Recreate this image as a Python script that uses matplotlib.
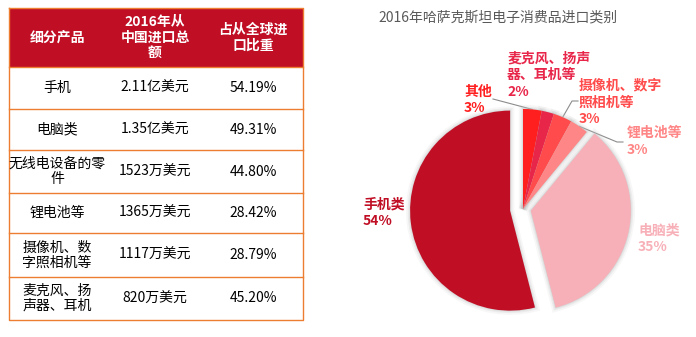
import numpy as np
from matplotlib import pyplot as plt
from matplotlib.patches import Rectangle

plt.rcParams["font.family"] = ["Noto Sans CJK SC", "DejaVu Sans"]

# table data
table_header = ["细分产品", "2016年从\n中国进口总\n额", "占从全球进\n口比重"]
products = [
    "手机",
    "电脑类",
    "无线电设备的零\n件",
    "锂电池等",
    "摄像机、数\n字照相机等",
    "麦克风、扬\n声器、耳机",
]
import_amount = ["2.11亿美元", "1.35亿美元", "1523万美元", "1365万美元", "1117万美元", "820万美元"]
global_share = [54.19, 49.31, 44.80, 28.42, 28.79, 45.20]

# pie data (clockwise from top)
pie_title = "2016年哈萨克斯坦电子消费品进口类别"
pie_labels = ["其他", "麦克风、扬声\n器、耳机等", "摄像机、数字\n照相机等", "锂电池等", "电脑类", "手机类"]
pie_shares = [3, 2, 3, 3, 35, 54]
pie_colors = ["#FF1F1F", "#E8264A", "#FF4B4B", "#FF8686", "#F8B0B8", "#C00E25"]

RED = "#C00E25"
ORANGE = "#ED7D31"

fig = plt.figure(figsize=(6.96, 3.37), dpi=100)

# overlay axis in pixel coordinates for the table and text
axis = fig.add_axes([0, 0, 1, 1])
axis.set_xlim(0, 696)
axis.set_ylim(337, 0)
axis.axis("off")

left, right = 9, 303
header_top, header_bottom = 8, 67
row_edges = [67, 109, 150, 193, 233, 277, 320]
col_centers = [57, 155, 253]

axis.add_patch(Rectangle((left, header_top), right - left, header_bottom - header_top,
                         facecolor=RED, edgecolor="none", zorder=1))
axis.plot([left, right, right, left, left],
          [header_top, header_top, row_edges[-1], row_edges[-1], header_top],
          color=ORANGE, linewidth=1.0, zorder=3)
for y in row_edges[:-1]:
    axis.plot([left, right], [y, y], color=ORANGE, linewidth=1.0, zorder=3)

header_mid = (header_top + header_bottom) / 2
for x, label in zip(col_centers, table_header):
    axis.text(x, header_mid, label, color="white", fontsize=10, fontweight="bold",
              ha="center", va="center", linespacing=1.15, zorder=4)

for i, (prod, amount, share) in enumerate(zip(products, import_amount, global_share)):
    y_mid = (row_edges[i] + row_edges[i + 1]) / 2
    for x, text in zip(col_centers, [prod, amount, "{:.2f}%".format(share)]):
        axis.text(x, y_mid, text, color="black", fontsize=10, ha="center",
                  va="center", linespacing=1.1, zorder=4)

axis.text(498, 17, pie_title, color="#595959", fontsize=10, ha="center", va="center")

# pie chart: centre at pixel (523, 209), radius 100 px
cx, cy, rad = 523, 209, 100.0
ax_pie = fig.add_axes([340 / 696, 0, 356 / 696, 1])
explode = [0, 0, 0, 0, 0.08, 0.13]

# soft shadow under the wedges
for lw, alpha in [(6, 0.12), (3.5, 0.2), (1.5, 0.3)]:
    ax_pie.pie(pie_shares, explode=explode, startangle=90, counterclock=False,
               colors=["#bfbfbf"] * len(pie_shares),
               wedgeprops={"edgecolor": "#bfbfbf", "linewidth": lw, "alpha": alpha})
wedges, _ = ax_pie.pie(pie_shares, explode=explode, startangle=90, counterclock=False,
                       colors=pie_colors,
                       wedgeprops={"edgecolor": "none", "linewidth": 0})
ax_pie.set_aspect("auto")
ax_pie.set_xlim((340 - cx) / rad, (696 - cx) / rad)
ax_pie.set_ylim((cy - 337) / rad, (cy - 0) / rad)
ax_pie.axis("off")
ax_pie.patch.set_alpha(0)

label_pos = [(464, 100), (507, 75), (579, 102.5), (627, 141.5), (638, 238.5), (363, 212.5)]
for label, share, color, (lx, ly) in zip(pie_labels, pie_shares, pie_colors, label_pos):
    axis.text(lx, ly, "{}\n{}%".format(label, share), color=color, fontsize=10,
              fontweight="bold", ha="left", va="center", linespacing=1.25, zorder=5)


def wedge_point(wedge):
    theta = np.deg2rad((wedge.theta1 + wedge.theta2) / 2)
    px = wedge.center[0] + wedge.r * np.cos(theta)
    py = wedge.center[1] + wedge.r * np.sin(theta)
    disp = ax_pie.transData.transform((px, py))
    return axis.transData.inverted().transform(disp)


# leader lines for the small slices
leaders = {0: [(493, 99)], 2: [(578, 101), (572, 101)], 3: [(623, 142), (617, 142)]}
for idx, pts in leaders.items():
    end = wedge_point(wedges[idx])
    xs = [p[0] for p in pts] + [end[0]]
    ys = [p[1] for p in pts] + [end[1]]
    axis.plot(xs, ys, color="#8c8c8c", linewidth=0.8, zorder=4)

fig.savefig("out.png", dpi=100)
